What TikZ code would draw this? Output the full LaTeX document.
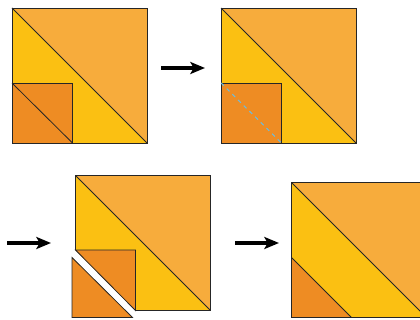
\documentclass[tikz,border=0pt]{standalone}
\usetikzlibrary{arrows.meta}
\definecolor{paleorange}{HTML}{F7AC3C}
\definecolor{sunyellow}{HTML}{FBC012}
\definecolor{deeporange}{HTML}{EE8C23}
\definecolor{foldblue}{HTML}{6DBBDD}

\begin{document}
\begin{tikzpicture}[
    x=0.75pt, y=-0.75pt,
    edge/.style={draw=black!85, line width=0.6pt, line join=miter},
    upper/.style={fill=paleorange},
    lower/.style={fill=sunyellow},
    corner/.style={fill=deeporange},
    fold/.style={draw=foldblue, line width=0.8pt, dash pattern=on 3pt off 3pt},
    step arrow/.style={line width=2.4pt, -{Stealth[length=11pt, width=9pt, inset=2.5pt]}}
]
\useasboundingbox (0,0) rectangle (420,320);

% Panel 1: square with the small corner square
\coordinate (a1) at (12,8);
\coordinate (b1) at (147,8);
\coordinate (c1) at (147,143);
\coordinate (d1) at (12,143);
\coordinate (e1) at (12,83);
\coordinate (f1) at (72.5,83);
\coordinate (g1) at (72.5,143);
\fill[upper] (a1) rectangle (c1);
\fill[lower] (a1) -- (c1) -- (d1) -- cycle;
\fill[corner] (e1) rectangle (g1);
\draw[edge] (a1) rectangle (c1);
\draw[edge] (a1) -- (c1);
\draw[edge] (e1) -- (f1) -- (g1);
\draw[edge] (e1) -- (g1);

% Arrow 1
\coordinate (s1) at (161,68);
\coordinate (t1) at (205,68);
\draw[step arrow] (s1) -- (t1);

% Panel 2: fold line marked
\coordinate (a2) at (221,8);
\coordinate (b2) at (356,8);
\coordinate (c2) at (356,143);
\coordinate (d2) at (221,143);
\coordinate (e2) at (221,83);
\coordinate (f2) at (281.5,83);
\coordinate (g2) at (281.5,143);
\fill[upper] (a2) rectangle (c2);
\fill[lower] (a2) -- (c2) -- (d2) -- cycle;
\fill[corner] (e2) rectangle (g2);
\draw[edge] (a2) rectangle (c2);
\draw[edge] (a2) -- (c2);
\draw[edge] (e2) -- (f2) -- (g2);
\draw[fold] (e2) -- (g2);

% Arrow 2
\coordinate (s2) at (7,243);
\coordinate (t2) at (51,243);
\draw[step arrow] (s2) -- (t2);

% Panel 3: corner triangle cut off and moved away
\coordinate (a3) at (75.5,175.5);
\coordinate (b3) at (210.5,175.5);
\coordinate (c3) at (210.5,310.5);
\coordinate (e3) at (75.5,250);
\coordinate (f3) at (135.5,250);
\coordinate (g3) at (135.5,310.5);
\coordinate (p3) at (72,257.5);
\coordinate (q3) at (72,317.5);
\coordinate (r3) at (132.5,317.5);
\fill[upper] (a3) -- (b3) -- (c3) -- (g3) -- (e3) -- cycle;
\fill[lower] (a3) -- (c3) -- (g3) -- (e3) -- cycle;
\fill[corner] (e3) -- (f3) -- (g3) -- cycle;
\draw[edge] (e3) -- (a3) -- (b3) -- (c3) -- (g3);
\draw[edge] (a3) -- (c3);
\draw[edge] (e3) -- (f3) -- (g3) -- cycle;
\fill[corner] (p3) -- (q3) -- (r3) -- cycle;
\draw[edge] (p3) -- (q3) -- (r3) -- cycle;

% Arrow 3
\coordinate (s3) at (235,243);
\coordinate (t3) at (279,243);
\draw[step arrow] (s3) -- (t3);

% Panel 4: result
\coordinate (a4) at (291.5,182.5);
\coordinate (c4) at (426.5,317.5);
\coordinate (d4) at (291.5,317.5);
\coordinate (e4) at (291.5,257.5);
\coordinate (g4) at (351.5,317.5);
\fill[upper] (a4) rectangle (c4);
\fill[lower] (a4) -- (c4) -- (d4) -- cycle;
\fill[corner] (e4) -- (g4) -- (d4) -- cycle;
\draw[edge] (a4) rectangle (c4);
\draw[edge] (a4) -- (c4);
\draw[edge] (e4) -- (g4);

\end{tikzpicture}
\end{document}
